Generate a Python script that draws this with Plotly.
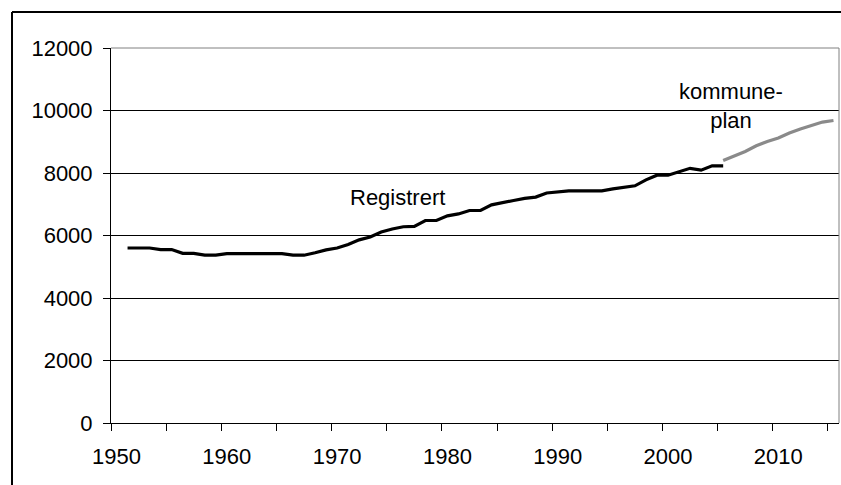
import plotly.graph_objects as go

years_registrert = list(range(1951, 2006))
registrert = [5600, 5600, 5600, 5550, 5550, 5430, 5430, 5370, 5370, 5420,
              5420, 5420, 5420, 5420, 5420, 5370, 5370, 5450, 5540, 5600,
              5710, 5860, 5950, 6110, 6210, 6280, 6290, 6480, 6480, 6630,
              6690, 6800, 6800, 6980, 7060, 7120, 7190, 7230, 7360, 7400,
              7430, 7430, 7430, 7430, 7490, 7530, 7590, 7780, 7930, 7930,
              8050, 8150, 8090, 8230, 8230]
years_plan = list(range(2005, 2016))
kommuneplan = [8400, 8550, 8690, 8870, 9010, 9120, 9280, 9410, 9520, 9630, 9680]

x_label_vals = [1950, 1960, 1970, 1980, 1990, 2000, 2010]
y_tick_vals = [0, 2000, 4000, 6000, 8000, 10000, 12000]
y_tick_text = ["0", "2000", "4000", "6000", "8000", "10000", "12000"]

FONT = "Liberation Sans, Arial, sans-serif"

fig = go.Figure()
fig.add_trace(go.Scatter(x=years_registrert, y=registrert, mode="lines",
                         line=dict(color="black", width=3.2), showlegend=False))
fig.add_trace(go.Scatter(x=years_plan, y=kommuneplan, mode="lines",
                         line=dict(color="#8a8a8a", width=3.2), showlegend=False))

fig.add_annotation(x=1975.5, y=7220, text="Registrert", showarrow=False,
                   font=dict(family=FONT, size=22, color="black"))
fig.add_annotation(x=2005.7, y=10150, text="kommune-<br>plan", showarrow=False,
                   align="center", font=dict(family=FONT, size=22, color="black"))

W, H = 841, 485
L, R, T, B = 111, 2, 48, 62
pw, ph = W - L - R, H - T - B

def px_x(p):
    return (p - L) / pw

def px_y(p):
    return (H - B - p) / ph

# plot-area border (top and right, gray)
fig.add_shape(type="line", xref="paper", yref="paper", x0=0, x1=1, y0=1, y1=1,
              line=dict(color="#808080", width=1))
fig.add_shape(type="line", xref="paper", yref="paper", x0=1, x1=1, y0=0, y1=1,
              line=dict(color="#808080", width=1))
# outer chart border (top and left)
fig.add_shape(type="line", xref="paper", yref="paper", x0=px_x(12), x1=px_x(845),
              y0=px_y(12), y1=px_y(12), line=dict(color="black", width=2))
fig.add_shape(type="line", xref="paper", yref="paper", x0=px_x(12), x1=px_x(12),
              y0=px_y(12), y1=px_y(490), line=dict(color="black", width=2))

fig.update_layout(
    width=W, height=H,
    margin=dict(l=L, r=R, t=T, b=B, pad=0),
    paper_bgcolor="white", plot_bgcolor="white",
    font=dict(family=FONT, size=22, color="black"),
    xaxis=dict(range=[1949.5, 2015.5], tickmode="array", tickvals=x_label_vals,
               ticks="", showgrid=False, showline=True, linecolor="black",
               linewidth=1, zeroline=False,
               ticklabelstandoff=14,
               minor=dict(tickmode="linear", tick0=1949.5, dtick=5,
                          ticks="outside", ticklen=7, tickcolor="black",
                          tickwidth=1, showgrid=False)),
    yaxis=dict(range=[0, 12000], tickmode="array", tickvals=y_tick_vals,
               ticktext=y_tick_text,
               ticks="outside", ticklen=7, tickcolor="black", tickwidth=1,
               showgrid=True, gridcolor="black", gridwidth=1,
               showline=True, linecolor="black", linewidth=1, zeroline=False,
               ticklabelstandoff=6),
)

fig.write_html(
    "out.html",
    config={"displayModeBar": False},
    post_script="document.body.style.margin='0';document.body.style.overflow='hidden';",
)
